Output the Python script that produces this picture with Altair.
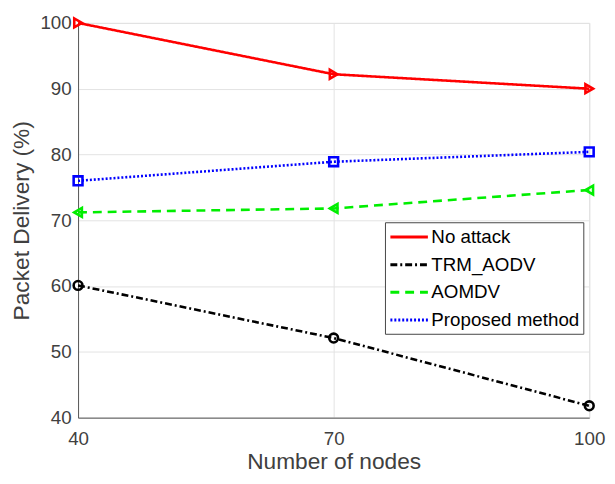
import altair as alt
import pandas as pd

nodes = [40, 70, 100]
series_names = ["No attack", "TRM_AODV", "AOMDV", "Proposed method"]
no_attack = [100.0, 92.2, 90.0]
trm_aodv = [60.1, 52.1, 41.8]
aomdv = [71.2, 71.8, 74.6]
proposed = [76.0, 78.9, 80.4]

colors = ["#ff0000", "#000000", "#00ee00", "#0000ff"]
dashes = [[1, 0], [7, 3, 2, 3], [9, 6], [2, 2]]
shapes = ["triangle-right", "circle", "triangle-left", "square"]

rows = []
for name, vals in zip(series_names, [no_attack, trm_aodv, aomdv, proposed]):
    for n, v in zip(nodes, vals):
        rows.append({"nodes": n, "pdr": v, "series": name})
df = pd.DataFrame(rows)

txt = "#404040"
x = alt.X("nodes:Q", title="Number of nodes",
          scale=alt.Scale(domain=[40, 100], nice=False),
          axis=alt.Axis(values=nodes, grid=True, gridColor="#e3e3e3", ticks=False,
                        labelFontSize=19, titleFontSize=23, labelColor=txt, titleColor=txt,
                        domainColor="#555555", labelPadding=12, titlePadding=3,
                        labelFont="Liberation Sans", titleFont="Liberation Sans",
                        titleFontWeight="normal", labelFlush=False))
y = alt.Y("pdr:Q", title="Packet Delivery (%)",
          scale=alt.Scale(domain=[40, 100], nice=False),
          axis=alt.Axis(values=[40, 50, 60, 70, 80, 90, 100], grid=True, gridColor="#e3e3e3",
                        ticks=False, labelFontSize=19, titleFontSize=23, labelColor=txt,
                        titleColor=txt, domainColor="#555555", labelPadding=7, titlePadding=7,
                        labelFont="Liberation Sans", titleFont="Liberation Sans",
                        titleFontWeight="normal"))

leg = dict(title=None, orient="none", legendX=311, legendY=202,
           labelFontSize=19, labelFont="Liberation Sans", labelColor="#000000",
           symbolType="M-1,0H3", symbolSize=361, symbolStrokeWidth=3, rowPadding=7,
           fillColor="white", strokeColor="#444444", padding=4, labelLimit=300,
           offset=0, symbolOffset=0, labelOffset=21)
color = alt.Color("series:N", scale=alt.Scale(domain=series_names, range=colors),
                  legend=alt.Legend(**leg))
dash = alt.StrokeDash("series:N", scale=alt.Scale(domain=series_names, range=dashes),
                      legend=alt.Legend(**leg))

lines = alt.Chart(df).mark_line(strokeWidth=2.6).encode(x=x, y=y, color=color, strokeDash=dash)

layers = [lines]
for name, col, shp in zip(series_names, colors, shapes):
    layers.append(
        alt.Chart(df).transform_filter(alt.datum.series == name)
        .mark_point(filled=False, strokeWidth=2.6, size=80, opacity=1, shape=shp, color=col)
        .encode(x=x, y=y)
    )

chart = alt.layer(*layers).properties(
    width=518, height=400,
    autosize=alt.AutoSizeParams(type="none"),
    padding={"left": 71, "top": 12, "right": 18, "bottom": 56},
).configure_view(stroke="#404040", strokeWidth=1.2).configure(background="white")

chart.save("out.html", embed_options={"renderer": "svg", "actions": False})
